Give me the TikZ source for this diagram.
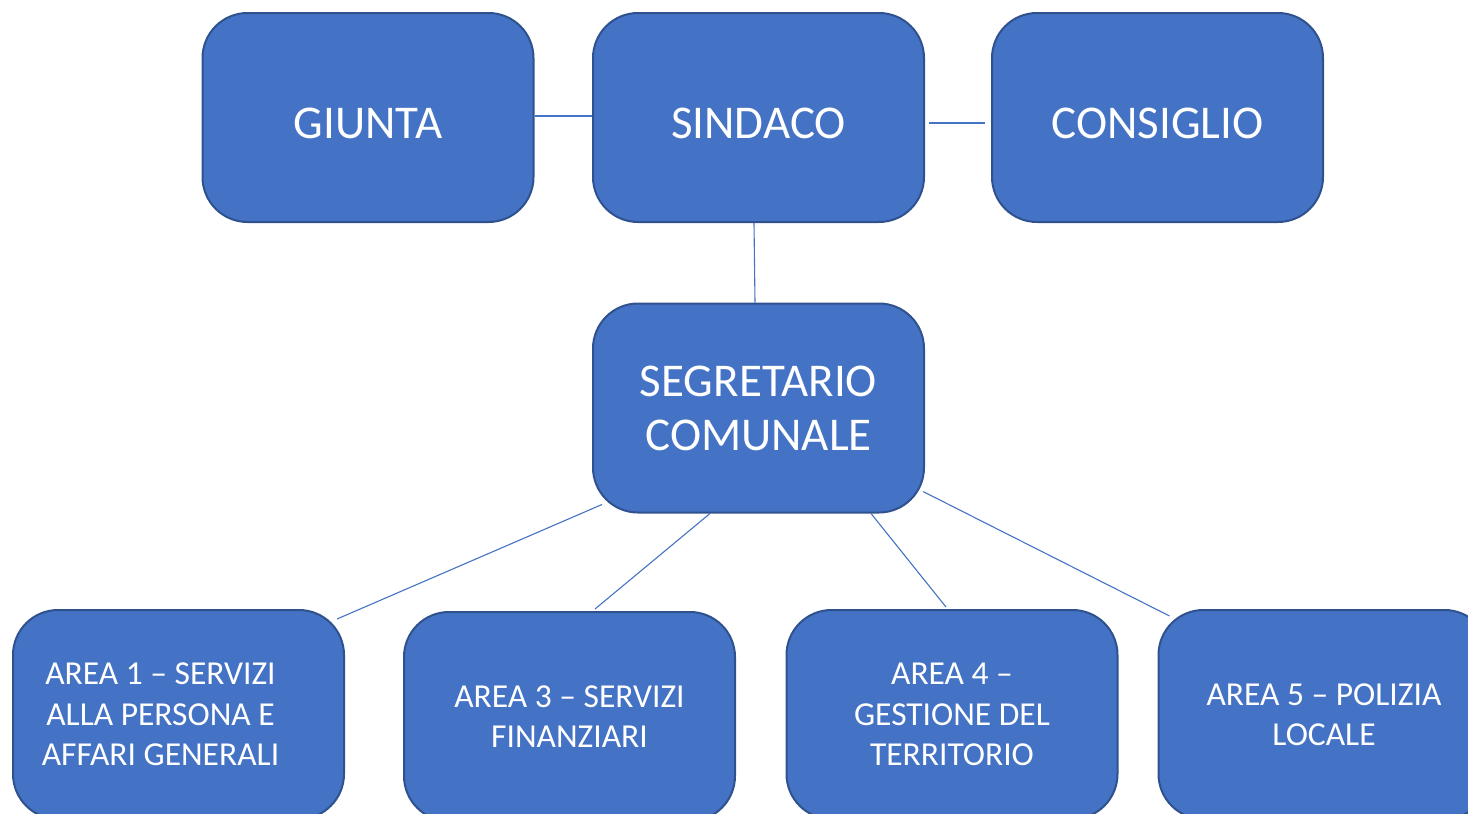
\documentclass[tikz,border=0pt]{standalone}
\usepackage{fontspec}
\setmainfont{Carlito}
\usetikzlibrary{calc}
\definecolor{boxfill}{HTML}{4472C4}
\definecolor{boxline}{HTML}{2F528F}
\tikzset{
  orgbox/.style={rectangle, rounded corners=45pt, fill=boxfill, draw=boxline,
    line width=2pt, minimum width=331pt, minimum height=209pt, inner sep=0pt,
    text=white, align=flush center},
  topbox/.style={orgbox, font=\fontsize{47}{56}\selectfont, text height=41pt, text depth=0pt},
  midbox/.style={orgbox, font=\fontsize{47}{54}\selectfont, text width=320pt},
  areabox/.style={orgbox, font=\fontsize{33.5}{40.5}\selectfont, text width=310pt},
  conn/.style={draw=boxfill, line width=1.1pt}
}
\begin{document}
\begin{tikzpicture}[x=1pt,y=-1pt]
\useasboundingbox (0,0) rectangle (1468,814);
\node[topbox] (giunta) at (368,117.5) {GIUNTA};
\node[topbox] (sindaco) at (758.5,117.5) {SINDACO};
\node[topbox] (consiglio) at (1157.5,117.5) {CONSIGLIO};
\node[midbox] (segretario) at (758.5,408) {SEGRETARIO\\COMUNALE};
\node[areabox] (area1) at (178.5,714.5) {\hspace*{-36pt}AREA 1 – SERVIZI\\\hspace*{-36pt}ALLA PERSONA E\\\hspace*{-36pt}AFFARI GENERALI};
\node[areabox] (area3) at (569.5,716.5) {AREA 3 – SERVIZI\\FINANZIARI};
\node[areabox] (area4) at (952,714.5) {AREA 4 –\\GESTIONE DEL\\TERRITORIO};
\node[areabox] (area5) at (1324,714.5) {AREA 5 – POLIZIA\\LOCALE};

\draw[conn] ([yshift=1.5pt]giunta.east) -- ([yshift=1.5pt]sindaco.west);
\draw[conn] ($(sindaco.east)+(4,5.5)$) -- ($(consiglio.west)+(-6,5.5)$);
\draw[conn] ($(sindaco.south)+(-4.5,0)$) -- ($(segretario.north)+(-3.5,0)$);
\draw[conn] ($(segretario.south west)+(10,-9)$) -- ($(area1.north east)+(-8,10)$);
\draw[conn] ($(segretario.south)+(-48.5,0)$) -- ($(area3.north)+(25.5,-2)$);
\draw[conn] ($(segretario.south)+(112.5,0)$) -- ($(area4.north)+(-6,-2)$);
\draw[conn] ($(segretario.south east)+(-2,-22)$) -- ($(area5.north west)+(12,7)$);
\end{tikzpicture}
\end{document}
